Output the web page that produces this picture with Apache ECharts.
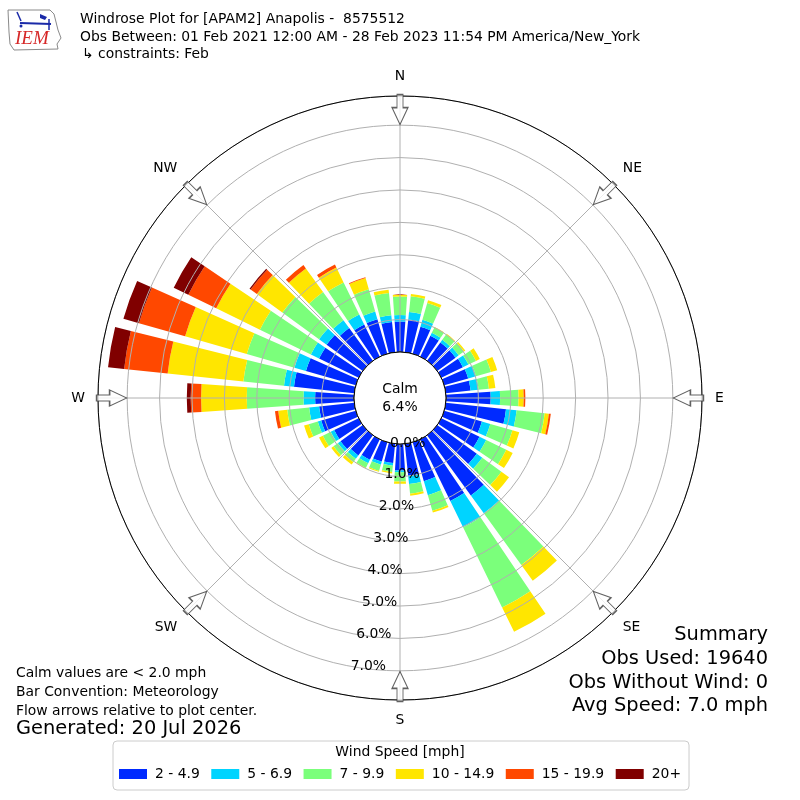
<!DOCTYPE html>
<html><head><meta charset="utf-8">
<script src="https://cdn.jsdelivr.net/npm/echarts@6/dist/echarts.min.js"></script>
<style>html,body{margin:0;padding:0;background:#fff}#c{width:800px;height:800px}</style>
</head><body><div id="c"></div>
<script>
// ---- data (percent of observations) ----
const directions = ['0','10','20','30','40','50','60','70','80','90','100','110','120','130','140','150','160','170',
  '180','190','200','210','220','230','240','250','260','270','280','290','300','310','320','330','340','350'];
const speedBins = ['2 - 4.9','5 - 6.9','7 - 9.9','10 - 14.9','15 - 19.9','20+'];
const spd2to5  = [0.94,1.02,0.87,0.72,0.70,0.70,0.74,0.77,0.77,1.38,1.87,1.21,1.31,1.51,2.30,2.12,1.25,1.00,
  0.82,0.60,0.62,0.70,0.77,0.85,0.84,1.11,1.09,1.20,1.87,1.60,1.36,1.38,1.25,1.10,1.11,0.94];
const spd5to7  = [0.20,0.23,0.22,0.10,0.10,0.12,0.19,0.25,0.25,0.29,0.33,0.27,0.23,0.21,0.68,0.90,0.45,0.25,
  0.05,0.08,0.10,0.12,0.13,0.10,0.12,0.11,0.31,0.36,0.31,0.37,0.28,0.29,0.30,0.35,0.25,0.21];
const spd7to10 = [0.57,0.49,0.54,0.18,0.20,0.20,0.26,0.48,0.32,0.57,0.87,0.71,0.69,0.73,1.97,2.75,0.50,0.30,
  0.29,0.20,0.20,0.16,0.13,0.17,0.27,0.29,0.68,1.75,1.26,1.53,1.75,1.40,1.07,1.10,0.71,0.69];
const spd10to15= [0.06,0.07,0.09,0.02,0.03,0.05,0.13,0.20,0.20,0.16,0.13,0.22,0.22,0.29,0.60,0.84,0.06,0.06,
  0.07,0.04,0.03,0.02,0.09,0.08,0.13,0.15,0.28,1.41,2.35,1.98,1.50,0.97,0.90,0.51,0.36,0.10];
const spd15to20= [0,0,0,0,0,0,0,0,0,0.05,0.06,0,0,0,0,0,0,0,
  0,0,0,0,0,0,0,0,0.10,0.32,1.35,1.48,0.96,0.24,0.13,0.10,0.03,0];
const spd20up  = [0,0,0,0,0,0,0,0,0,0,0,0,0,0,0,0,0,0,
  0,0,0,0,0,0,0,0,0,0.12,0.50,0.50,0.50,0.04,0,0,0,0];
const calmPct = [6.4];
const compassTicks = [0,45,90,135,180,225,270,315];
const compassNames = ['N','NE','E','SE','S','SW','W','NW'];
const radialTicks = [0,1,2,3,4,5,6,7];
const radialMax = 7.9;

// ---- styles ----
const binColors = ['#002aff','#00d4ff','#7bff7b','#ffe600','#ff4800','#800000'];
const FONT = 'DejaVu Sans';
const GRID = '#b0b0b0';
const CENTER = [400, 398];
const RADII = [46, 302];
const arrowRadius = 7.48;

const seriesValues = [spd2to5, spd5to7, spd7to10, spd10to15, spd15to20, spd20up];
const barSeries = speedBins.map((name, i) => ({
  type: 'bar', name, coordinateSystem: 'polar', polarIndex: 0, stack: 'rose',
  data: seriesValues[i], barCategoryGap: '20%', itemStyle: {color: binColors[i]},
  silent: true, z: 2
}));

const arrowPath = 'path://M5,0 L11,0 L11,13 L16,13 L8,30 L0,13 L5,13 Z';
const arrowSeries = {
  type: 'scatter', coordinateSystem: 'polar', polarIndex: 1, z: 7, silent: true,
  symbol: arrowPath, symbolSize: [16, 30],
  itemStyle: {color: '#ffffff', borderColor: '#3a3a3a', borderWidth: 1.2},
  data: compassTicks.map(a => ({value: [arrowRadius, a], symbolRotate: -a}))
};

const calmSeries = {
  type: 'pie', center: CENTER, radius: [0, RADII[0]], z: 6, silent: true,
  itemStyle: {color: '#ffffff', borderColor: '#000000', borderWidth: 1},
  label: {show: true, position: 'center', formatter: 'Calm\n{c}%', fontFamily: FONT, fontSize: 13.9,
          lineHeight: 18, color: '#000'},
  labelLine: {show: false}, emphasis: {disabled: true},
  data: [{value: calmPct[0], name: 'Calm'}]
};

function txt(x, y, s, size, align, extra) {
  return Object.assign({type: 'text', x, y, z: 100, silent: true,
    style: {text: s, fontSize: size, fontFamily: FONT, fill: '#000', align: align || 'left', verticalAlign: 'middle'}}, extra || {});
}

const logo = [
  {type: 'polyline', z: 100, silent: true,
   shape: {points: [[8,10],[50,10],[54,14],[56,22],[58,30],[61,38],[57,44],[58,49],[14,50],[10,44],[9,32],[8,10]]},
   style: {stroke: '#8a8a8a', fill: null, lineWidth: 1}},
  {type: 'line', z: 100, silent: true, shape: {x1: 20, y1: 23, x2: 51, y2: 24}, style: {stroke: '#1a2aa8', lineWidth: 2}},
  {type: 'polygon', z: 100, silent: true, shape: {points: [[40,14],[47,17],[45,20],[40,18]]}, style: {fill: '#1a2aa8'}},
  {type: 'line', z: 100, silent: true, shape: {x1: 49, y1: 19, x2: 49, y2: 30}, style: {stroke: '#1a2aa8', lineWidth: 1.5}},
  {type: 'line', z: 100, silent: true, shape: {x1: 17, y1: 12, x2: 21, y2: 21}, style: {stroke: '#1a2aa8', lineWidth: 1.5}},
  {type: 'circle', z: 100, silent: true, shape: {cx: 21, cy: 26, r: 1.5}, style: {fill: '#1a2aa8'}},
  {type: 'text', x: 15, y: 39, z: 100, silent: true,
   style: {text: 'IEM', fontFamily: 'Liberation Serif', fontStyle: 'italic', fontSize: 19, fill: '#d62828',
           verticalAlign: 'middle', align: 'left'}}
];

const texts = [
  txt(80, 19, 'Windrose Plot for [APAM2] Anapolis -  8575512', 13.9),
  txt(80, 37, 'Obs Between: 01 Feb 2021 12:00 AM - 28 Feb 2023 11:54 PM America/New_York', 13.9),
  txt(82, 54, '\u21b3 constraints: Feb', 13.9),
  txt(16, 673, 'Calm values are < 2.0 mph', 13.9),
  txt(16, 692, 'Bar Convention: Meteorology', 13.9),
  txt(16, 711, 'Flow arrows relative to plot center.', 13.9),
  txt(16, 729, 'Generated: 20 Jul 2026', 19.4),
  txt(768, 635, 'Summary', 19.4, 'right'),
  txt(768, 659, 'Obs Used: 19640', 19.4, 'right'),
  txt(768, 683, 'Obs Without Wind: 0', 19.4, 'right'),
  txt(768, 706, 'Avg Speed: 7.0 mph', 19.4, 'right'),
  txt(400, 752, 'Wind Speed [mph]', 13.9, 'center')
];

const chart = echarts.init(document.getElementById('c'), null, {renderer: 'canvas'});
chart.setOption({
  animation: false,
  backgroundColor: '#ffffff',
  polar: [
    {center: CENTER, radius: RADII},
    {center: CENTER, radius: RADII},
    {center: CENTER, radius: RADII}
  ],
  angleAxis: [
    {polarIndex: 0, type: 'category', data: directions, startAngle: 95, clockwise: true, boundaryGap: true,
     axisLine: {show: false}, axisTick: {show: false}, axisLabel: {show: false}, splitLine: {show: false}, z: 0},
    {polarIndex: 1, type: 'value', min: 0, max: 360, interval: 45, startAngle: 90, clockwise: true, z: 5,
     axisLine: {show: true, lineStyle: {color: '#000', width: 1}},
     axisTick: {show: false},
     splitLine: {show: true, lineStyle: {color: GRID, width: 1}},
     axisLabel: {show: true, margin: 13, fontFamily: FONT, fontSize: 13.9, color: '#000',
       formatter: v => { const i = compassTicks.indexOf(v); return i >= 0 ? compassNames[i] : ''; }}},
    {polarIndex: 2, type: 'value', min: 0, max: 360, startAngle: 260, clockwise: true, show: false}
  ],
  radiusAxis: [
    {polarIndex: 0, type: 'value', min: 0, max: radialMax, interval: 1, z: 4,
     axisLine: {show: false}, axisTick: {show: false}, axisLabel: {show: false},
     splitLine: {show: true, lineStyle: {color: GRID, width: 1}}},
    {polarIndex: 1, type: 'value', min: 0, max: radialMax, show: false},
    {polarIndex: 2, type: 'value', min: 0, max: radialMax, interval: 1, z: 10,
     axisLine: {show: false}, axisTick: {show: false}, splitLine: {show: false},
     axisLabel: {show: true, margin: -2, fontFamily: FONT, fontSize: 13.9, color: '#000',
       formatter: v => radialTicks.indexOf(v) >= 0 ? v.toFixed(1) + '%' : ''}}
  ],
  legend: {
    data: speedBins, left: 113, top: 741, orient: 'horizontal', icon: 'rect',
    itemWidth: 28, itemHeight: 10, itemGap: 11.5, selectedMode: false,
    padding: [26, 8, 9, 6], borderColor: '#cccccc', borderWidth: 1, borderRadius: 4, backgroundColor: '#ffffff',
    textStyle: {fontFamily: FONT, fontSize: 13.9, color: '#000', padding: [0, 0, 0, 3]}
  },
  graphic: logo.concat(texts),
  series: barSeries.concat([arrowSeries, calmSeries])
});
</script>
</body></html>
